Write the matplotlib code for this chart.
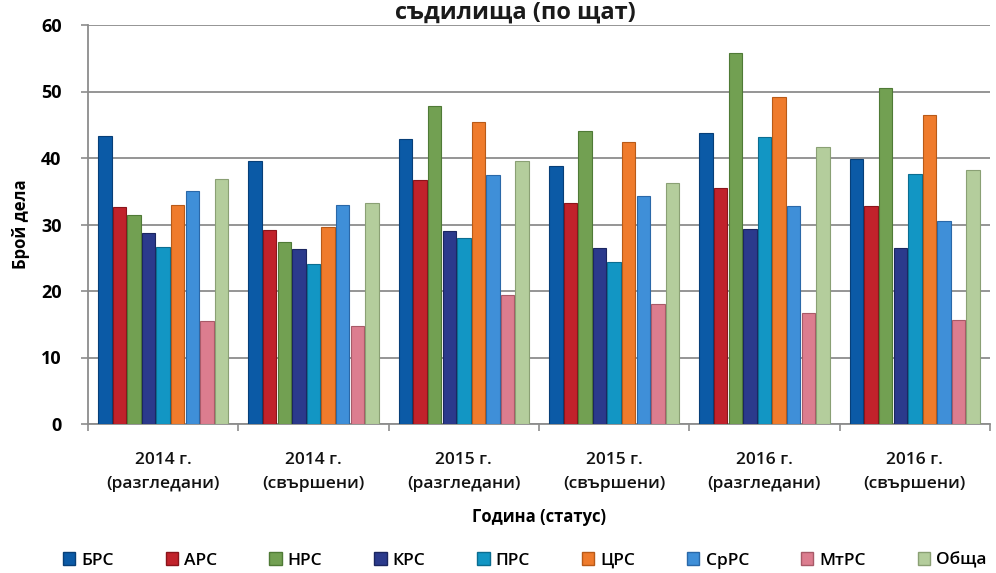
import matplotlib
matplotlib.use("Agg")
import matplotlib.pyplot as plt
import numpy as np
from matplotlib.patches import Patch

plt.rcParams['font.family'] = ['Open Sans', 'DejaVu Sans']

categories = ["2014 г.\n(разгледани)", "2014 г.\n(свършени)", "2015 г.\n(разгледани)",
              "2015 г.\n(свършени)", "2016 г.\n(разгледани)", "2016 г.\n(свършени)"]
series_names = ["БРС", "АРС", "НРС", "КРС", "ПРС", "ЦРС", "СрРС", "МтРС", "Обща"]

brs  = [43.3, 39.5, 42.8, 38.8, 43.8, 39.9]
ars  = [32.6, 29.2, 36.7, 33.2, 35.5, 32.8]
nrs  = [31.4, 27.4, 47.8, 44.0, 55.8, 50.5]
krs  = [28.7, 26.3, 29.0, 26.5, 29.3, 26.5]
prs  = [26.6, 24.0, 28.0, 24.4, 43.1, 37.6]
tsrs = [33.0, 29.6, 45.4, 42.4, 49.2, 46.5]
srrs = [35.0, 33.0, 37.5, 34.3, 32.8, 30.5]
mtrs = [15.5, 14.7, 19.4, 18.0, 16.7, 15.6]
obsht = [36.9, 33.2, 39.6, 36.2, 41.7, 38.2]

values = [brs, ars, nrs, krs, prs, tsrs, srrs, mtrs, obsht]
colors = ["#0b5aa6", "#c1222b", "#72a052", "#2b3a8c", "#1296c4",
          "#ef7b2c", "#3f8fd8", "#dc7d8f", "#b4cd9c"]
edges = ["#073f78", "#8a141b", "#4f7a36", "#1b2660", "#0b6d90",
         "#b85a18", "#2a68a8", "#a85a68", "#8aa074"]

fig = plt.figure(figsize=(9.96, 5.73), dpi=100)
ax = fig.add_axes([88/996, 1-424/573, 902/996, 399/573])

n = len(values)
bw = 0.097
x = np.arange(len(categories))
for i, (vals, c, e) in enumerate(zip(values, colors, edges)):
    offs = (i - (n-1)/2) * bw
    ax.bar(x + offs, vals, width=bw*0.92, color=c, edgecolor=e, linewidth=0.8,
           label=series_names[i], zorder=3)

ax.set_ylim(0, 60)
ax.set_xlim(-0.5, len(categories)-0.5)
ax.set_yticks(range(0, 61, 10))
ax.yaxis.grid(True, color="#8c8c8c", linewidth=1.3, zorder=0)
ax.set_axisbelow(True)
for s in ["top", "right"]:
    ax.spines[s].set_visible(False)
ax.spines["left"].set_color("#8c8c8c")
ax.spines["left"].set_linewidth(1.3)
ax.spines["bottom"].set_color("#8c8c8c")
ax.spines["bottom"].set_linewidth(1.3)

ax.set_xticks(x)
ax.set_xticklabels(categories, fontsize=12.5, fontweight="semibold", color="#111111",
                   linespacing=1.65)
ax.tick_params(axis="x", length=0, pad=20)
ax.set_xticks(np.arange(-0.5, len(categories), 1), minor=True)
ax.tick_params(axis="x", which="minor", length=5, color="#8c8c8c", width=1.2)
ax.tick_params(axis="y", labelsize=13, length=5, color="#8c8c8c", width=1.2, pad=14)
for lab in ax.get_yticklabels():
    lab.set_fontweight("bold")

ax.set_xlabel("Година (статус)", fontsize=12, fontweight="bold", labelpad=12)
ax.set_ylabel("Брой дела", fontsize=12, fontweight="bold", labelpad=8)

fig.text(0.517, 0.999, "съдилища (по щат)", ha="center", va="top",
         fontsize=17, fontweight="bold", color="#1a1a1a")

handles = [Patch(facecolor=c, edgecolor=e) for c, e in zip(colors, edges)]
fig.legend(handles, series_names, loc="center", bbox_to_anchor=(0.527, 0.022),
           ncol=9, frameon=False, handlelength=0.7, handleheight=0.7,
           columnspacing=3.0, handletextpad=0.35, borderpad=0.1,
           prop={"weight": "semibold", "size": 12.5})

fig.savefig("out.png", dpi=100)
